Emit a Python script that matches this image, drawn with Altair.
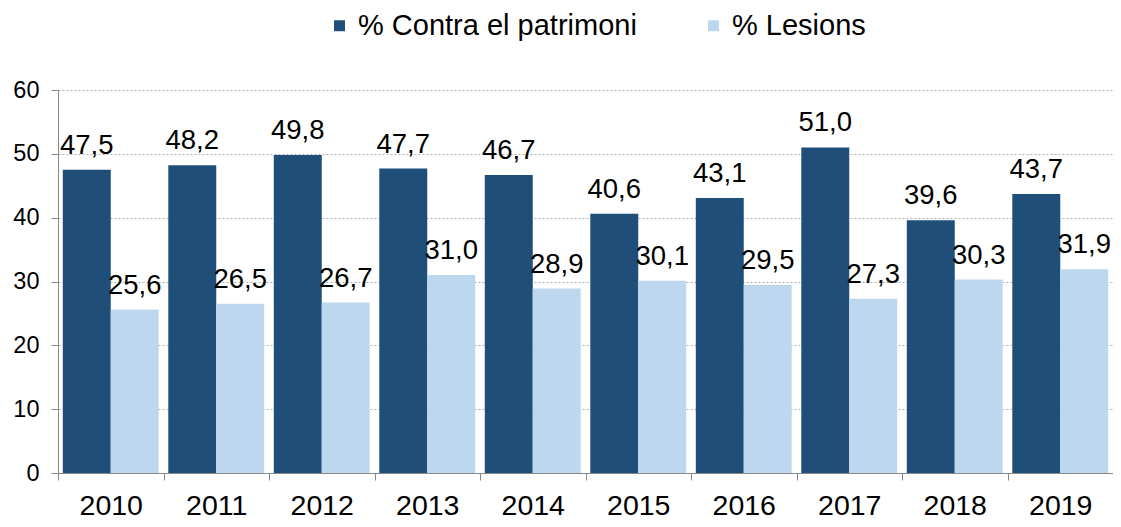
import altair as alt
import pandas as pd

years = ["2010", "2011", "2012", "2013", "2014", "2015", "2016", "2017", "2018", "2019"]
patrimoni = [47.5, 48.2, 49.8, 47.7, 46.7, 40.6, 43.1, 51.0, 39.6, 43.7]
lesions = [25.6, 26.5, 26.7, 31.0, 28.9, 30.1, 29.5, 27.3, 30.3, 31.9]
series_names = ["% Contra el patrimoni", "% Lesions"]
colors = ["#1F4E79", "#BDD7EE"]

rows = []
for i, y in enumerate(years):
    rows.append({"year": y, "series": series_names[0], "value": patrimoni[i]})
    rows.append({"year": y, "series": series_names[1], "value": lesions[i]})
df = pd.DataFrame(rows)

FONT = "Liberation Sans"

x_enc = alt.X("year:N", title=None, sort=years,
              scale=alt.Scale(paddingInner=0, paddingOuter=0),
              axis=alt.Axis(tickBand="extent", labelAngle=0, labelFontSize=28.5,
                            labelColor="#000000", labelPadding=11, tickSize=7,
                            tickColor="#888888", domainColor="#888888",
                            labelFont=FONT, grid=False))
xoff = alt.XOffset("series:N", sort=series_names,
                   scale=alt.Scale(paddingInner=0, paddingOuter=0.1))
y_enc = alt.Y("value:Q", title=None,
              scale=alt.Scale(domain=[0, 60], nice=False),
              axis=alt.Axis(values=[0, 10, 20, 30, 40, 50, 60], labelFontSize=23.5,
                            labelColor="#000000", labelPadding=12, tickSize=7,
                            tickColor="#888888", domainColor="#888888",
                            labelFont=FONT, grid=True, gridColor="#b0b0b0",
                            gridDash=[2, 2], gridWidth=1))

base = alt.Chart(df)

bars = base.mark_bar().encode(
    x=x_enc,
    xOffset=xoff,
    y=y_enc,
    color=alt.Color("series:N", sort=series_names,
                    scale=alt.Scale(domain=series_names, range=colors),
                    legend=alt.Legend(title=None, orient="none", direction="horizontal",
                                      legendX=267, legendY=-79,
                                      symbolType="square", symbolSize=120,
                                      symbolStrokeWidth=0, labelLimit=500,
                                      labelFontSize=29, labelFont=FONT,
                                      labelColor="#000000", labelOffset=4,
                                      columnPadding=62)),
)

labels = base.transform_calculate(
    lab="replace(format(datum.value, '.1f'), '.', ',')"
).mark_text(baseline="alphabetic", align="center", dy=-16, fontSize=27.5,
            font=FONT, color="#000000").encode(
    x=alt.X("year:N", sort=years),
    xOffset=alt.XOffset("series:N", sort=series_names),
    y=alt.Y("value:Q"),
    text="lab:N",
)

chart = alt.layer(bars, labels).properties(
    width=1055, height=383,
    autosize=alt.AutoSizeParams(type="none"),
    padding={"left": 50, "top": 82, "right": 0, "bottom": 50},
).configure_view(stroke=None).configure_axis(labelFont=FONT)

chart.save("out.html", embed_options={"renderer": "svg", "actions": False})
